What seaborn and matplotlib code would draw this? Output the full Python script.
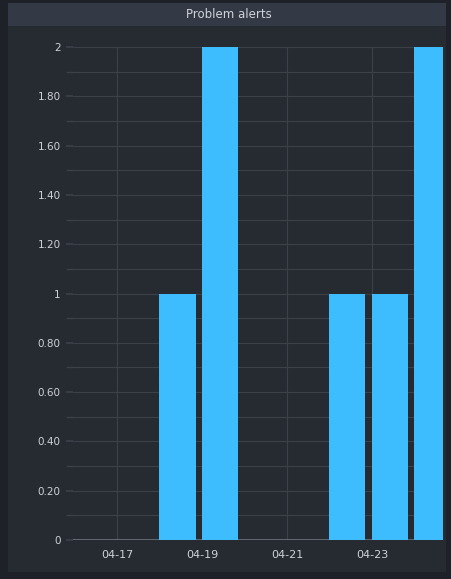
import numpy as np
import pandas as pd
import matplotlib
matplotlib.use("Agg")
import matplotlib.pyplot as plt
import matplotlib.patches as mpatches
import seaborn as sns

# data (daily problem alert counts)
days = ['04-16', '04-17', '04-18', '04-19', '04-20', '04-21', '04-22', '04-23', '04-24']
alerts = [0, 0, 1, 2, 0, 0, 1, 1, 2]
tick_days = ['04-17', '04-19', '04-21', '04-23']
y_major = [0, 0.2, 0.4, 0.6, 0.8, 1.0, 1.2, 1.4, 1.6, 1.8, 2.0]
y_labels = ['0', '0.20', '0.40', '0.60', '0.80', '1', '1.20', '1.40', '1.60', '1.80', '2']

df = pd.DataFrame({'day': days, 'alerts': alerts})

BG = '#1e2228'
PANEL = '#262a31'
HEADER = '#343a45'
BAR = '#3dbdfd'
GRID = '#3b4049'
TEXT = '#cfd3d8'

sns.set_theme(style="dark")
plt.rcParams['font.family'] = ['DejaVu Sans']

fig = plt.figure(figsize=(4.52, 5.79), dpi=100, facecolor=BG)
W, H = 452, 579

# panel + header bar (behind the axes)
fig.patches.append(mpatches.Rectangle((8 / W, 1 - 572 / H), 438 / W, 569 / H,
                                      transform=fig.transFigure, facecolor=PANEL,
                                      edgecolor='none', zorder=-2))
fig.patches.append(mpatches.Rectangle((8 / W, 1 - 26 / H), 438 / W, 23 / H,
                                      transform=fig.transFigure, facecolor=HEADER,
                                      edgecolor='none', zorder=-1))
fig.text(229 / W, 1 - 14 / H, 'Problem alerts', color=TEXT, fontsize=8.5,
         ha='center', va='center')

ax = fig.add_axes([73 / W, 1 - 540 / H, 370 / W, 493 / H])
ax.set_facecolor('none')

sns.barplot(data=df, x='day', y='alerts', order=days, color=BAR, width=0.85,
            saturation=1, linewidth=0, ax=ax, zorder=3)

ax.set_xlim(-0.46, 8.25)
ax.set_ylim(0, 2)

tick_pos = [days.index(d) - 0.42 for d in tick_days]
ax.set_xticks(tick_pos)
ax.set_xticklabels(tick_days)
ax.set_yticks(y_major)
ax.set_yticklabels(y_labels)
ax.set_yticks(np.arange(0.1, 2.0, 0.2), minor=True)

ax.grid(True, which='major', axis='both', color=GRID, linewidth=0.8, zorder=0)
ax.grid(True, which='minor', axis='y', color=GRID, linewidth=0.8, zorder=0)
ax.set_axisbelow(True)
# brighter baseline at zero
ax.axhline(0, color='#6b7480', linewidth=1.2, zorder=1)

ax.tick_params(axis='y', which='both', length=5, color=GRID, labelcolor=TEXT,
               labelsize=7.5, pad=4, left=True)
ax.tick_params(axis='x', length=0, labelcolor=TEXT, labelsize=8, pad=7)

for s in ax.spines.values():
    s.set_visible(False)

ax.set_xlabel('')
ax.set_ylabel('')

plt.savefig('out.png', dpi=100, facecolor=BG)
plt.close()
